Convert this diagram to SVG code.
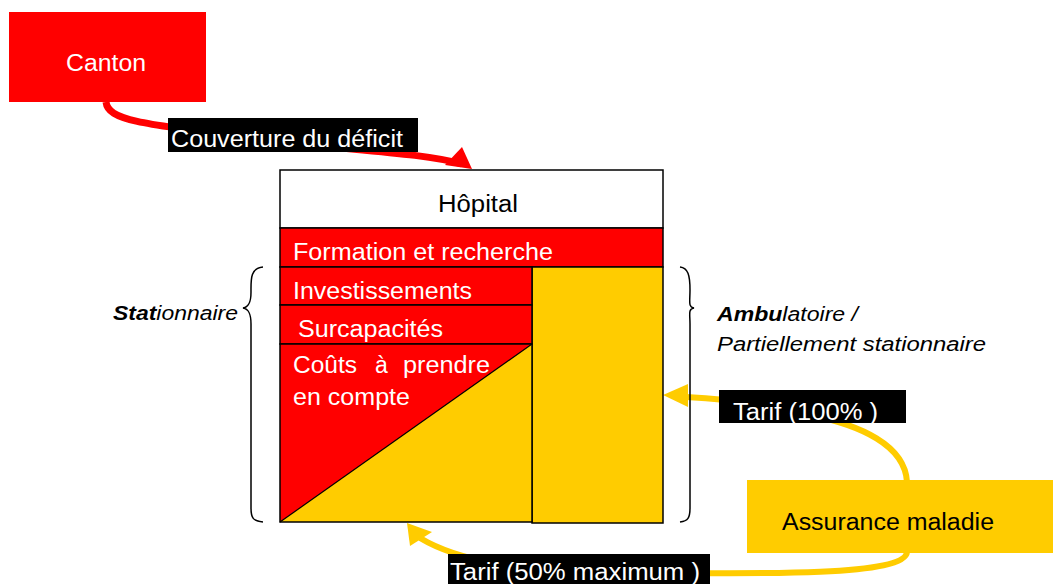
<svg xmlns="http://www.w3.org/2000/svg" width="1053" height="584" viewBox="0 0 1053 584">
<style>
.t{font-family:"Liberation Sans",Arial,sans-serif;font-size:23px}
.w{fill:#fff}
.k{fill:#000}
.i{font-family:"Liberation Sans",Arial,sans-serif;font-size:20px;font-style:italic;fill:#000}
.red{fill:#FF0000}
.yel{fill:#FFCC00}
.cell{stroke:#000;stroke-width:1.5}
.brace{fill:none;stroke:#000;stroke-width:1.5}
.lbl{fill:#000}
</style>
<rect width="1053" height="584" fill="#fff"/>
<g id="connectors">
  <path d="M106,102 C108,120 140,124 250,138 C340,150 420,152 462,164" fill="none" stroke="#FF0000" stroke-width="7"/>
  <polygon points="472,169 445,165 462,147" fill="#FF0000"/>
  <path d="M907,482 C905,445 860,425 810,415 C770,405 730,399 686,397" fill="none" stroke="#FFCC00" stroke-width="6"/>
  <polygon points="663,395 688,384 688,407" fill="#FFCC00"/>
  <path d="M907,552 C905,575 780,575 600,572 C520,570 460,562 420,538" fill="none" stroke="#FFCC00" stroke-width="6"/>
  <polygon points="407,523 410,546 432,532" fill="#FFCC00"/>
</g>
<g id="canton">
  <rect x="9" y="12" width="197" height="90" class="red"/>
  <text x="106" y="71" class="t w" text-anchor="middle" textLength="80" lengthAdjust="spacingAndGlyphs">Canton</text>
</g>
<g id="label-couverture">
  <rect x="168" y="118" width="250" height="34" class="lbl"/>
  <text x="171" y="147" class="t w" textLength="232" lengthAdjust="spacingAndGlyphs">Couverture du déficit</text>
</g>
<g id="hopital">
  <rect x="280" y="170" width="383" height="58" fill="#fff" class="cell"/>
  <text x="478" y="212" class="t k" text-anchor="middle" textLength="80" lengthAdjust="spacingAndGlyphs">Hôpital</text>
</g>
<g id="formation">
  <rect x="280" y="228" width="383" height="39" class="red cell"/>
  <text x="293" y="260" class="t w" textLength="260" lengthAdjust="spacingAndGlyphs">Formation et recherche</text>
</g>
<g id="ambulatoire-col">
  <rect x="532" y="267" width="131" height="256" class="yel cell"/>
</g>
<g id="investissements">
  <rect x="280" y="267" width="252" height="38" class="red cell"/>
  <text x="293" y="299" class="t w" textLength="179" lengthAdjust="spacingAndGlyphs">Investissements</text>
</g>
<g id="surcapacites">
  <rect x="280" y="305" width="252" height="39" class="red cell"/>
  <text x="298" y="337" class="t w" textLength="145" lengthAdjust="spacingAndGlyphs">Surcapacités</text>
</g>
<g id="couts">
  <rect x="280" y="344" width="252" height="178" class="yel"/>
  <polygon points="280,344 532,344 280,522" class="red"/>
  <line x1="280" y1="522" x2="532" y2="344" stroke="#000" stroke-width="1.2"/>
  <rect x="280" y="344" width="252" height="178" fill="none" class="cell"/>
  <text y="373" class="t w"><tspan x="293" textLength="64" lengthAdjust="spacingAndGlyphs">Coûts</tspan><tspan x="375">à</tspan><tspan x="403" textLength="87" lengthAdjust="spacingAndGlyphs">prendre</tspan></text>
  <text x="293" y="405" class="t w" textLength="117" lengthAdjust="spacingAndGlyphs">en compte</text>
</g>
<g id="stationnaire">
  <path d="M263,267 C250,268 251,280 251,292 C251,302 249,307 243,308 C249,309 251,314 251,324 L251,508 C251,518 253,521 263,522" class="brace"/>
  <text x="113" y="320" class="i" textLength="125" lengthAdjust="spacingAndGlyphs"><tspan font-weight="bold">Stat</tspan>ionnaire</text>
</g>
<g id="ambulatoire">
  <path d="M680,267 C688,268 690,275 690,290 C690,302 688,307 694,308 C688,309 690,314 690,324 L690,508 C690,518 688,521 680,522" class="brace"/>
  <text x="717" y="321" class="i" textLength="141" lengthAdjust="spacingAndGlyphs"><tspan font-weight="bold">Ambu</tspan>latoire /</text>
  <text x="717" y="351" class="i" textLength="269" lengthAdjust="spacingAndGlyphs">Partiellement stationnaire</text>
</g>
<g id="label-tarif100">
  <rect x="719" y="390" width="187" height="33" class="lbl"/>
  <text x="733" y="420" class="t w" textLength="145" lengthAdjust="spacingAndGlyphs">Tarif (100% )</text>
</g>
<g id="assurance">
  <rect x="747" y="480" width="306" height="73" class="yel"/>
  <text x="782" y="530" class="t k" textLength="212" lengthAdjust="spacingAndGlyphs">Assurance maladie</text>
</g>
<g id="label-tarif50">
  <rect x="448" y="554" width="262" height="30" class="lbl"/>
  <text x="450" y="580" class="t w" textLength="250" lengthAdjust="spacingAndGlyphs">Tarif (50% maximum )</text>
</g>
</svg>
